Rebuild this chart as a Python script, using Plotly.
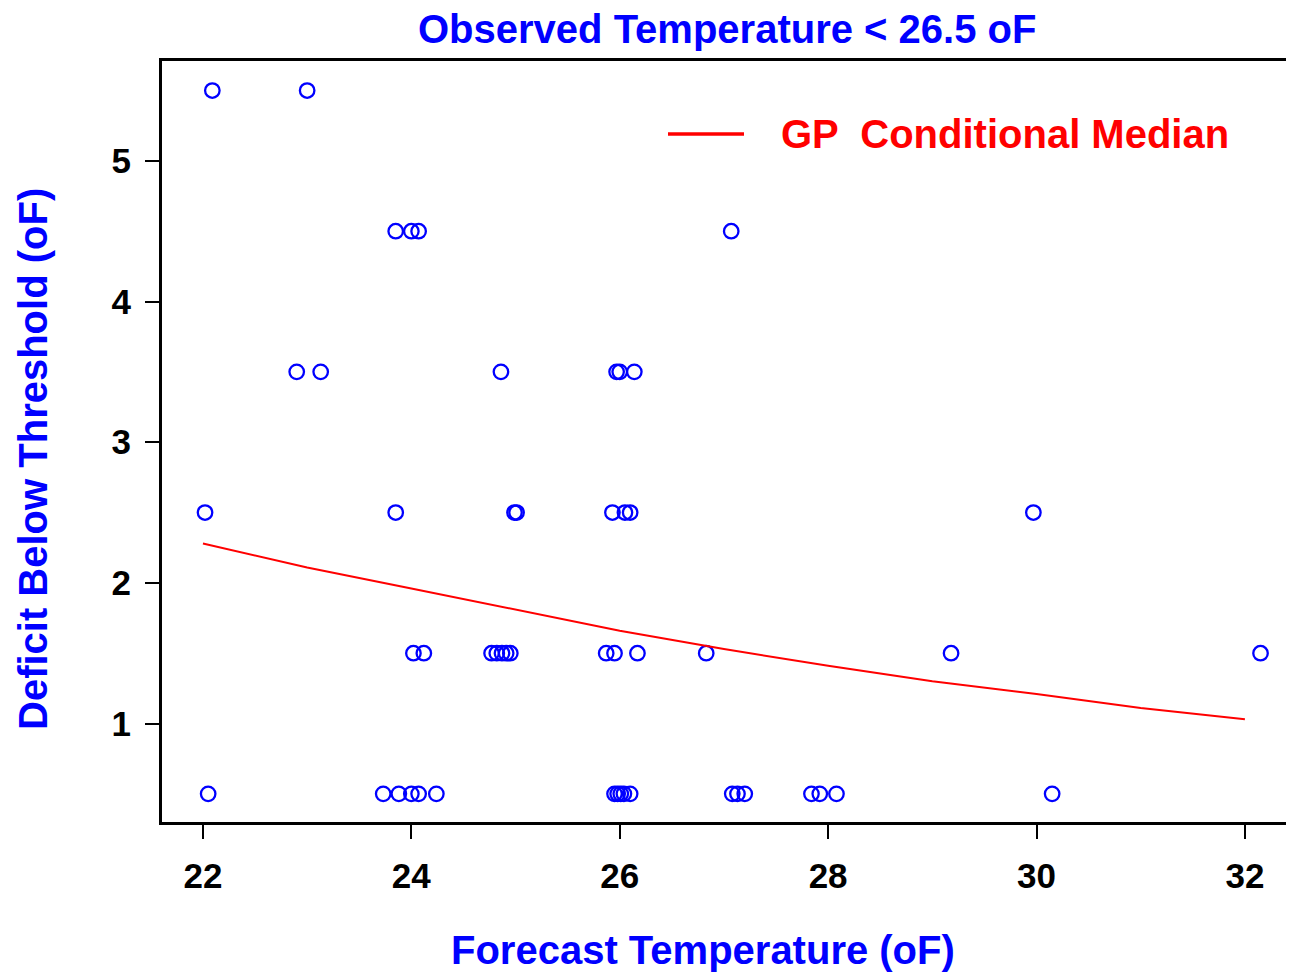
import plotly.graph_objects as go

# Scatter data: forecast temperature (x) and deficit below threshold (y)
x_vals = [22.09, 23.0,
          23.85, 24.0, 24.07, 27.07,
          22.9, 23.13, 24.86, 25.97, 26.0, 26.14,
          22.02, 23.85, 24.99, 25.01, 25.93, 26.05, 26.1, 29.97,
          24.02, 24.12, 24.77, 24.82, 24.87, 24.91, 24.95, 25.87, 25.95, 26.17, 26.83, 29.18, 32.15,
          22.05, 23.73, 23.88, 24.0, 24.07, 24.24, 25.95, 25.98, 26.01, 26.04, 26.1,
          27.08, 27.13, 27.2, 27.84, 27.92, 28.08, 30.15]
y_vals = [5.5, 5.5,
          4.5, 4.5, 4.5, 4.5,
          3.5, 3.5, 3.5, 3.5, 3.5, 3.5,
          2.5, 2.5, 2.5, 2.5, 2.5, 2.5, 2.5, 2.5,
          1.5, 1.5, 1.5, 1.5, 1.5, 1.5, 1.5, 1.5, 1.5, 1.5, 1.5, 1.5, 1.5,
          0.5, 0.5, 0.5, 0.5, 0.5, 0.5, 0.5, 0.5, 0.5, 0.5, 0.5,
          0.5, 0.5, 0.5, 0.5, 0.5, 0.5, 0.5]

# GP conditional median curve
med_x = [22, 23, 24, 25, 26, 27, 28, 29, 30, 31, 32]
med_y = [2.28, 2.11, 1.96, 1.81, 1.66, 1.53, 1.41, 1.30, 1.21, 1.11, 1.03]

x_ticks = [22, 24, 26, 28, 30, 32]
y_ticks = [1, 2, 3, 4, 5]

FONT = "Liberation Sans, Arial, sans-serif"
BLUE = "#0000FF"
PW = 1140.0
PH = 761.0

fig = go.Figure()
fig.add_trace(go.Scatter(x=x_vals, y=y_vals, mode="markers",
                         marker=dict(symbol="circle-open", size=14.5, color=BLUE,
                                     line=dict(width=2.3, color=BLUE)),
                         showlegend=False))
fig.add_trace(go.Scatter(x=med_x, y=med_y, mode="lines",
                         line=dict(color="#FF0000", width=2), showlegend=False))

fig.update_layout(
    width=1294, height=977,
    margin=dict(l=154, r=0, t=53, b=163),
    paper_bgcolor="white", plot_bgcolor="white",
    font=dict(family=FONT, color="black"),
    xaxis=dict(range=[21.607, 32.548], tickvals=x_ticks, ticktext=[str(v) for v in x_ticks],
               showgrid=False, zeroline=False, showline=True, mirror=True,
               linecolor="black", linewidth=3, ticks="outside", ticklen=14, tickwidth=2,
               tickcolor="black", ticklabelstandoff=7,
               tickfont=dict(size=35, family=FONT, color="black", weight="bold")),
    yaxis=dict(range=[0.30, 5.71], tickvals=y_ticks, ticktext=[str(v) for v in y_ticks],
               showgrid=False, zeroline=False, showline=True, mirror=False,
               linecolor="black", linewidth=3, ticks="outside", ticklen=14, tickwidth=2,
               tickcolor="black", ticklabelstandoff=7,
               tickfont=dict(size=35, family=FONT, color="black", weight="bold")),
    annotations=[
        dict(text="<b>Observed Temperature < 26.5 oF</b>", xref="paper", yref="paper",
             x=(727 - 162) / PW, y=1, yshift=32, xanchor="center", yanchor="middle",
             showarrow=False, font=dict(size=40, color=BLUE, family=FONT)),
        dict(text="<b>Forecast Temperature (oF)</b>", xref="paper", yref="paper",
             x=(703 - 162) / PW, y=0, yshift=-128, xanchor="center", yanchor="middle",
             showarrow=False, font=dict(size=40, color=BLUE, family=FONT)),
        dict(text="<b>Deficit Below Threshold (oF)</b>", xref="paper", yref="paper",
             x=0, xshift=-129, y=(822 - 459) / PH, xanchor="center", yanchor="middle",
             textangle=-90, showarrow=False, font=dict(size=40, color=BLUE, family=FONT)),
        dict(text="<b>GP  Conditional Median</b>", xref="paper", yref="paper",
             x=(779 - 162) / PW, y=(822 - 134) / PH, xanchor="left", yanchor="middle",
             showarrow=False, font=dict(size=40, color="#FF0000", family=FONT)),
    ],
    shapes=[
        dict(type="line", xref="paper", yref="paper",
             x0=(668 - 162) / PW, x1=(744 - 162) / PW,
             y0=(822 - 134) / PH, y1=(822 - 134) / PH,
             line=dict(color="#FF0000", width=3.5)),
    ],
)

fig.write_html("out.html")
